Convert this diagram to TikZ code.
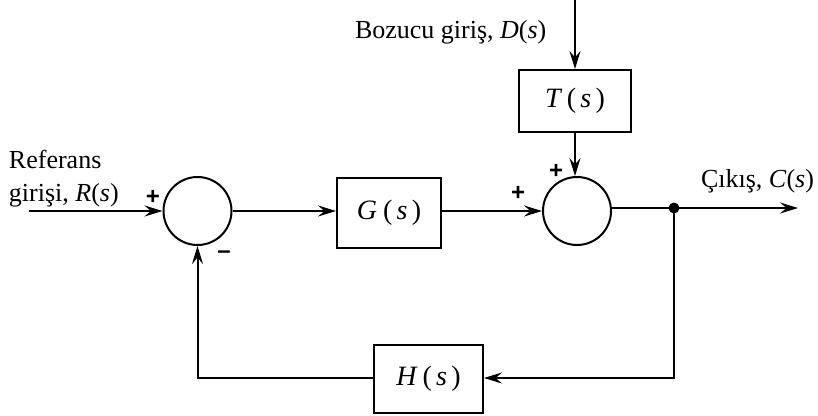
\documentclass[tikz,border=0pt]{standalone}
\usepackage{fontspec}
\setmainfont{Liberation Serif}
\setsansfont{Liberation Sans}
\usetikzlibrary{arrows.meta}
\newcommand{\tfn}[1]{\itshape #1\upshape\hspace{0.22em}(\hspace{0.15em}\itshape s\upshape\hspace{0.15em})}
\begin{document}
\begin{tikzpicture}[x=1pt,y=-1pt,
  line width=2pt,
  arr/.style={-{Stealth[length=18pt,width=11pt,inset=6.5pt]}},
  sumj/.style={draw,circle,minimum size=68pt,inner sep=0pt},
  blk/.style={draw,rectangle,inner sep=0pt,font=\fontsize{28}{32}\selectfont},
  lbl/.style={font=\fontsize{26}{30}\selectfont,inner sep=0pt},
  sgn/.style={font=\sffamily\bfseries\fontsize{24}{26}\selectfont,inner sep=0pt}]
\useasboundingbox (0,0) rectangle (818,415);
\node[sumj] (s1) at (197.5,211) {};
\node[blk,minimum width=104pt,minimum height=70pt] (G) at (389,213) {\tfn{G}};
\node[sumj] (s2) at (577,211) {};
\node[blk,minimum width=112pt,minimum height=62pt] (T) at (575,101) {\tfn{T}};
\node[blk,minimum width=109pt,minimum height=68pt] (H) at (428.5,379) {\tfn{H}};
\coordinate (in) at (29,211);
\coordinate (dtop) at (575,0);
\coordinate (out) at (798,208);
\coordinate (br) at (674,378);
\coordinate (bl) at (197.5,378);
\fill (674,208) circle (5.5pt) coordinate (dot);
\draw[arr] (in) -- (s1.west);
\draw[arr] (s1.east) -- (s1.east -| G.west);
\draw[arr] (G.east |- s2.west) -- (s2.west);
\draw[arr] (dtop) -- (T.north);
\draw[arr] (T.south) -- (T.south |- s2.north);
\draw[arr] (s2.east |- dot) -- (out);
\draw[arr] (dot) -- (br) -- (br -| H.east);
\draw[arr] (H.west |- bl) -- (bl) -- (s1.south);
\node[lbl,anchor=west] at (8,159) {Referans};
\node[lbl,anchor=west] at (8,195) {girişi, \textit{R}(\textit{s})};
\node[lbl,anchor=west] at (354,32) {Bozucu giriş, \textit{D}(\textit{s})};
\node[lbl,anchor=west] at (700,181) {Çıkış, \textit{C}(\textit{s})};
\node[sgn] at (153,197) {+};
\node[sgn] at (224,255) {\textendash};
\node[sgn] at (518,193) {+};
\node[sgn] at (556,171) {+};
\end{tikzpicture}
\end{document}
